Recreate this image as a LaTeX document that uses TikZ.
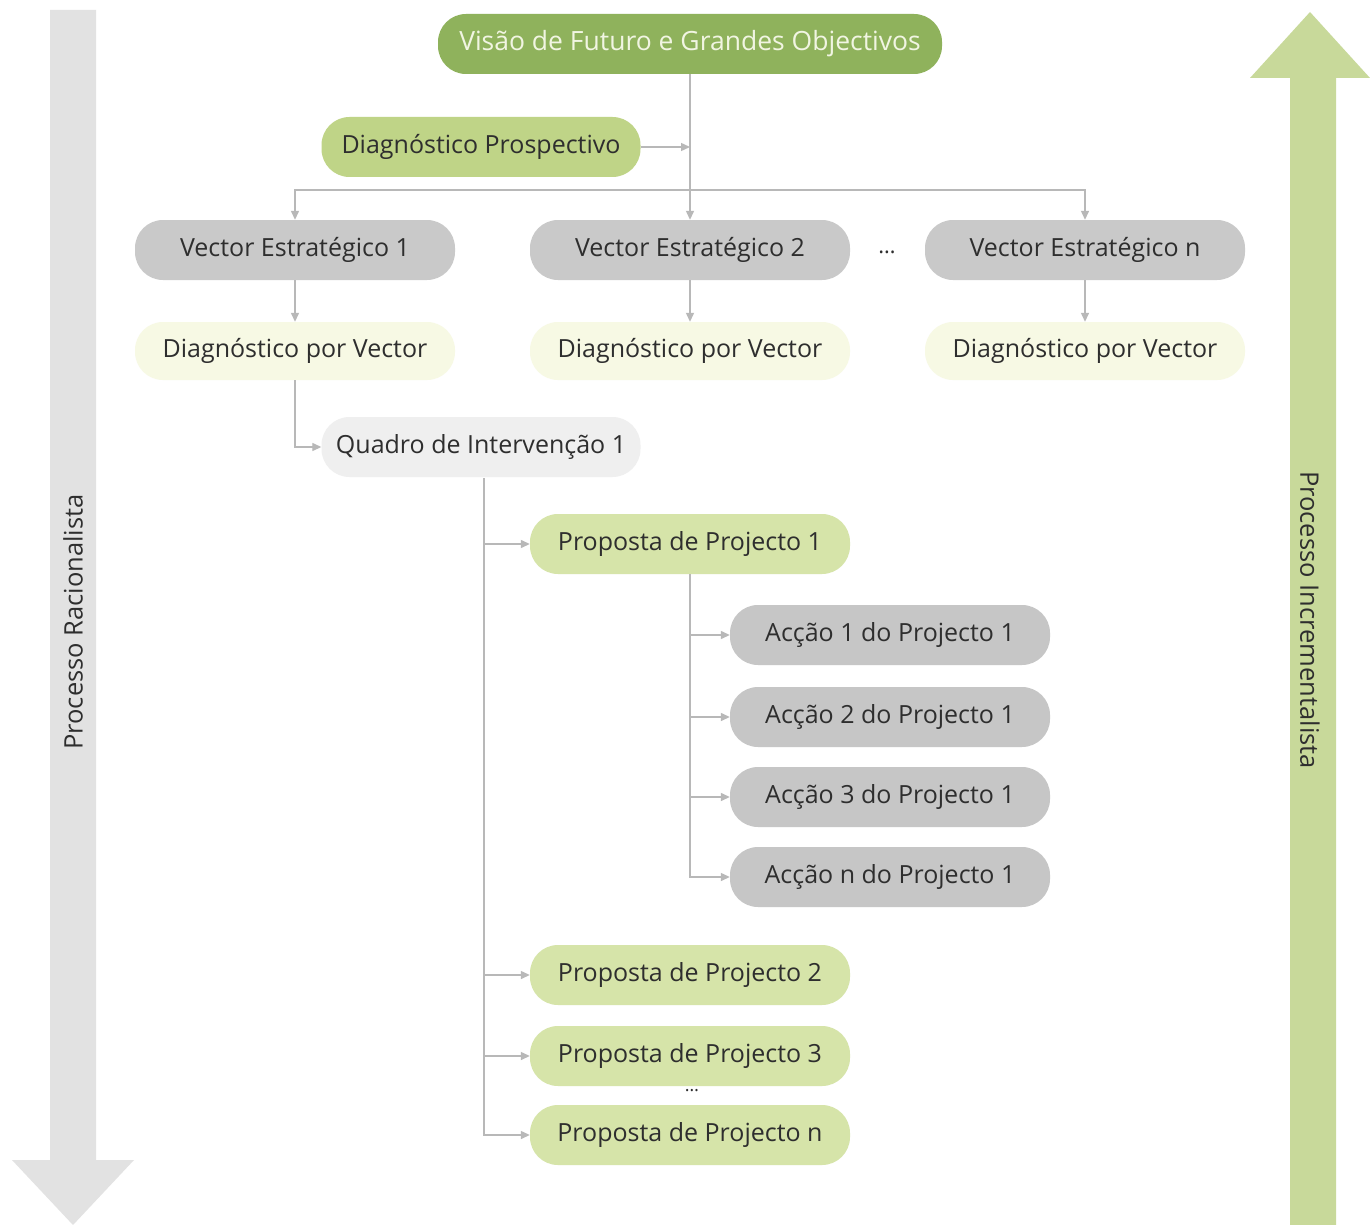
\documentclass[tikz,border=0pt]{standalone}
\usepackage{fontspec}
\setmainfont{Open Sans}
\usetikzlibrary{arrows.meta}
\definecolor{topgreen}{HTML}{8FB25C}
\definecolor{prosgreen}{HTML}{BFD487}
\definecolor{propgreen}{HTML}{D6E4A9}
\definecolor{vecgray}{HTML}{C9C9C9}
\definecolor{actgray}{HTML}{C6C6C6}
\definecolor{diagyel}{HTML}{F7F9E4}
\definecolor{quadgray}{HTML}{EFEFEF}
\definecolor{linegray}{HTML}{B8B8B8}
\definecolor{txt}{HTML}{2E2E2E}
\definecolor{toptxt}{HTML}{F1F5E2}
\definecolor{leftarrow}{HTML}{E2E2E2}
\definecolor{rightarrow}{HTML}{C8D99A}
\tikzset{
  pill/.style={rounded corners=28pt, minimum height=60pt, inner sep=0pt, text=txt, font=\fontsize{25}{30}\selectfont},
  wide/.style={pill, minimum width=320pt},
  conn/.style={draw=linegray, line width=1.3pt},
  arr/.style={conn, -{Triangle[width=8pt,length=9pt]}},
  biglabel/.style={text=txt, font=\fontsize{25.5}{30}\selectfont}
}
\begin{document}
\begin{tikzpicture}[x=1pt,y=-1pt]
\useasboundingbox (0,0) rectangle (1370,1225);
\fill[white] (0,0) rectangle (1370,1225);
% big arrows
\fill[leftarrow] (50,10) -- (96,10) -- (96,1160) -- (134,1160) -- (73,1225) -- (12,1160) -- (50,1160) -- cycle;
\fill[rightarrow] (1290,1225) -- (1336,1225) -- (1336,78) -- (1370,78) -- (1310,12) -- (1250,78) -- (1290,78) -- cycle;
\node[biglabel, rotate=90] (lab1) at (73,622) {Processo Racionalista};
\node[biglabel, rotate=-90] (lab2) at (1310,620) {Processo Incrementalista};
% nodes
\node[pill, fill=topgreen, minimum width=504pt, text=toptxt, font=\fontsize{26.5}{30}\selectfont] (top) at (690,44) {Visão de Futuro e Grandes Objectivos};
\node[pill, fill=prosgreen, minimum width=319pt] (pros) at (481,147) {Diagnóstico Prospectivo};
\node[wide, fill=vecgray] (v1) at (295,250) {Vector Estratégico 1};
\node[wide, fill=vecgray] (v2) at (690,250) {Vector Estratégico 2};
\node[wide, fill=vecgray] (vn) at (1085,250) {Vector Estratégico n};
\node[text=txt, font=\fontsize{22}{26}\selectfont] (vdots) at (887,252) {\dots};
\node[wide, fill=diagyel, minimum height=58pt] (d1) at (295,351) {Diagnóstico por Vector};
\node[wide, fill=diagyel, minimum height=58pt] (d2) at (690,351) {Diagnóstico por Vector};
\node[wide, fill=diagyel, minimum height=58pt] (dn) at (1085,351) {Diagnóstico por Vector};
\node[pill, fill=quadgray, minimum width=319pt] (q1) at (481,447) {Quadro de Intervenção 1};
\node[wide, fill=propgreen] (p1) at (690,544) {Proposta de Projecto 1};
\node[wide, fill=actgray] (a1) at (890,635) {Acção 1 do Projecto 1};
\node[wide, fill=actgray] (a2) at (890,717) {Acção 2 do Projecto 1};
\node[wide, fill=actgray] (a3) at (890,797) {Acção 3 do Projecto 1};
\node[wide, fill=actgray] (an) at (890,877) {Acção n do Projecto 1};
\node[wide, fill=propgreen] (p2) at (690,975) {Proposta de Projecto 2};
\node[wide, fill=propgreen] (p3) at (690,1056) {Proposta de Projecto 3};
\node[text=txt, font=\fontsize{18}{20}\selectfont] (pdots) at (692,1091) {\dots};
\node[wide, fill=propgreen] (pn) at (690,1135) {Proposta de Projecto n};
% connectors
\coordinate (bus) at (690,190);
\draw[conn] (top.south) -- (bus);
\draw[arr] (pros.east) -- (pros.east -| top.south);
\draw[arr] (bus) -- (v2.north);
\draw[arr] (bus) -| (v1.north);
\draw[arr] (bus) -| (vn.north);
\draw[arr] (v1.south) -- (d1.north);
\draw[arr] (v2.south) -- (d2.north);
\draw[arr] (vn.south) -- (dn.north);
\draw[arr] (d1.south) |- (q1.west);
\coordinate (qx) at (484,478);
\draw[conn] (qx) -- (484,1135);
\draw[arr] (qx |- p1.west) -- (p1.west);
\draw[arr] (qx |- p2.west) -- (p2.west);
\draw[arr] (qx |- p3.west) -- (p3.west);
\draw[arr] (qx) |- (pn.west);
\coordinate (px) at (690,574);
\draw[conn] (px) -- (690,877);
\draw[arr] (px |- a1.west) -- (a1.west);
\draw[arr] (px |- a2.west) -- (a2.west);
\draw[arr] (px |- a3.west) -- (a3.west);
\draw[arr] (px) |- (an.west);
\end{tikzpicture}
\end{document}
